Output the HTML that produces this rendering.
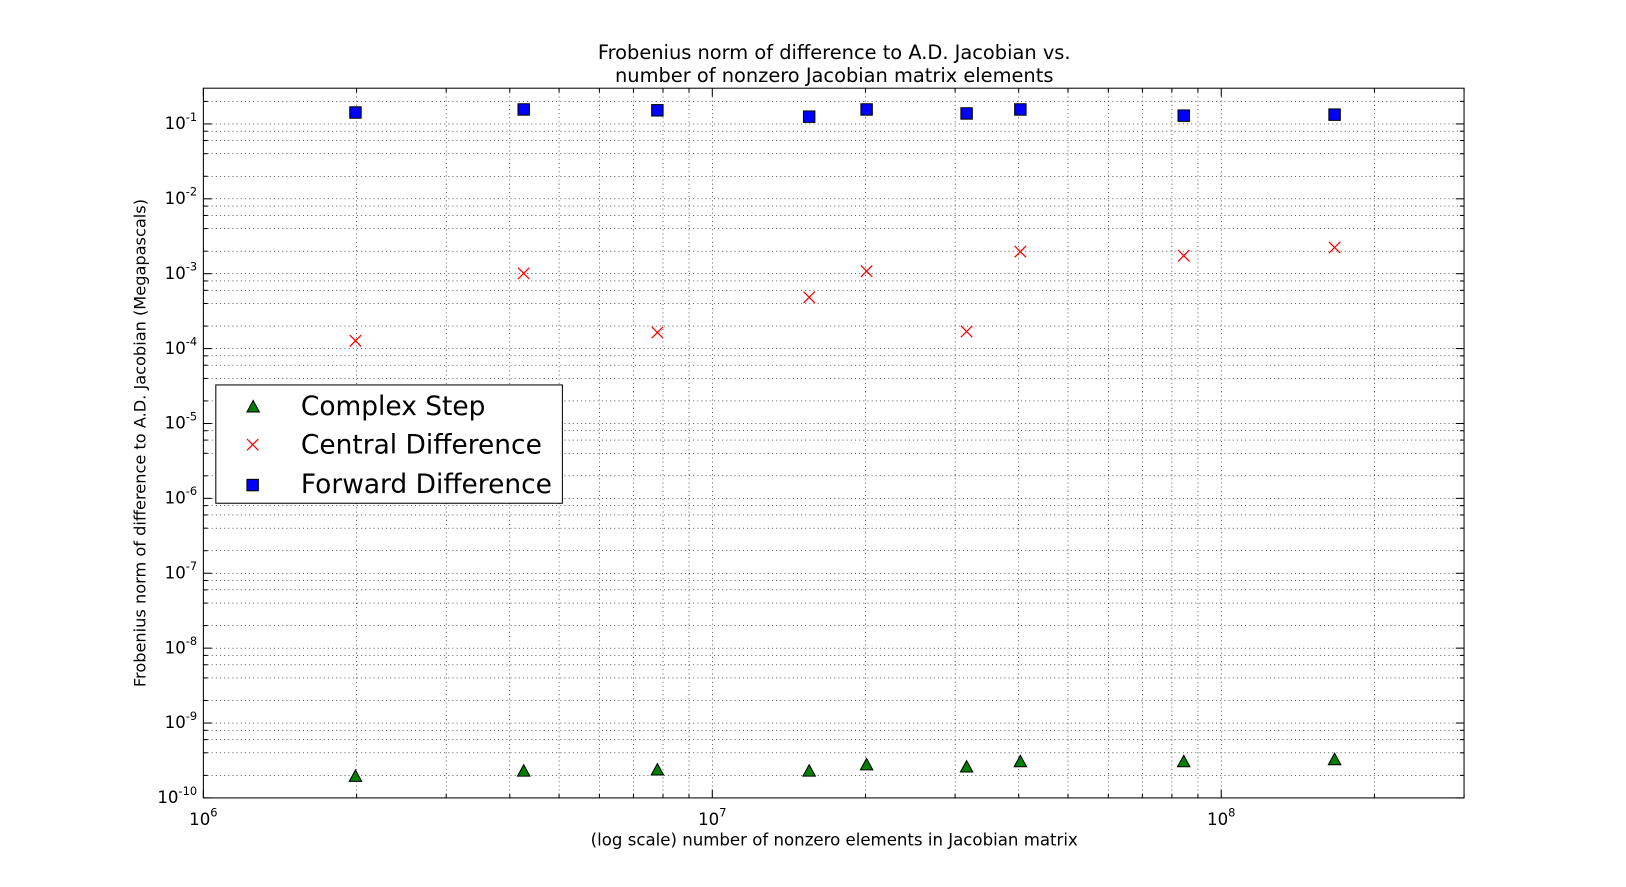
<!DOCTYPE html>
<html><head><meta charset="utf-8"><style>
body{margin:0;background:#fff;}
svg{display:block;font-family:"DejaVu Sans","Liberation Sans",sans-serif;}
</style></head><body>
<svg id="chart" width="1626" height="887">
<rect width="1626" height="887" fill="#fff"/>
<g transform="scale(1.0376)">
<text x="804" y="57" text-anchor="middle" font-size="18.7">Frobenius norm of difference to A.D. Jacobian vs.</text>
<text x="804" y="79" text-anchor="middle" font-size="18.7">number of nonzero Jacobian matrix elements</text>
<g id="grid"></g>
<g id="ticks"></g>
<g id="marks"></g>
<rect x="196" y="85" width="1215" height="684" fill="none" stroke="#000" stroke-width="1"/>
<text x="804" y="815" text-anchor="middle" font-size="16">(log scale) number of nonzero elements in Jacobian matrix</text>
<text transform="translate(140,427) rotate(-90)" text-anchor="middle" font-size="15.6">Frobenius norm of difference to A.D. Jacobian (Megapascals)</text>
<g>
<rect x="208" y="371" width="334" height="114" fill="#fff" stroke="#000"/>
<polygon points="244,386 238,397 250,397" fill="#008000" stroke="#000"/>
<text x="290" y="400" font-size="25.5">Complex Step</text>
<path d="M238,423 L249,434 M249,423 L238,434" stroke="#f00" stroke-width="1.2"/>
<text x="290" y="437" font-size="25.5">Central Difference</text>
<rect x="238" y="462" width="11" height="11" fill="#00f" stroke="#000"/>
<text x="290" y="475" font-size="25.5">Forward Difference</text>
</g>
</g>
</svg>
<script>
const xVals=[1.99e6,4.26e6,7.8e6,1.55e7,2.01e7,3.16e7,4.03e7,8.44e7,1.67e8];
const forward=[0.142,0.156,0.152,0.125,0.156,0.138,0.156,0.129,0.133];
const central=[1.27e-4,1.01e-3,1.64e-4,4.84e-4,1.08e-3,1.69e-4,1.97e-3,1.74e-3,2.24e-3];
const complexStep=[1.95e-10,2.29e-10,2.37e-10,2.29e-10,2.78e-10,2.6e-10,3.06e-10,3.06e-10,3.26e-10];
const xTickExps=[6,7,8];
const yTickExps=[-10,-9,-8,-7,-6,-5,-4,-3,-2,-1];
const X0=196,X1=1411,Y0=769,Y1=85;
const xMin=6,xMax=Math.log10(3e8),yMin=-10,yMax=Math.log10(0.3);
const sx=v=>X0+(Math.log10(v)-xMin)/(xMax-xMin)*(X1-X0);
const sy=v=>Y0-(Math.log10(v)-yMin)/(yMax-yMin)*(Y0-Y1);
const NS='http://www.w3.org/2000/svg';
function mk(tag,at,parent){const e=document.createElementNS(NS,tag);for(const k in at)e.setAttribute(k,at[k]);parent.appendChild(e);return e;}
const grid=document.getElementById('grid'),ticks=document.getElementById('ticks'),marks=document.getElementById('marks');
for(let e=6;e<=8;e++)for(let m=1;m<=9;m++){const v=m*Math.pow(10,e);if(v>3e8)continue;const x=sx(v);
 if(x>X0+0.5&&x<X1-0.5){const g=mk('line',{x1:x,x2:x,y1:Y1,y2:Y0,stroke:'#000','stroke-width':0.6,'stroke-dasharray':'1,3'},grid);
 
 }
 const L=m===1?8:4;
 const t1=mk('line',{x1:x,x2:x,y1:Y0,y2:Y0-L,stroke:'#000'},ticks);
 
 
 const t2=mk('line',{x1:x,x2:x,y1:Y1,y2:Y1+L,stroke:'#000'},ticks);
 
 }
xTickExps.forEach(e=>{const x=sx(Math.pow(10,e));const t=mk('text',{x:x,y:795,'font-size':16,'text-anchor':'middle'},ticks);
 
 
 t.innerHTML='10<tspan dy="-8" font-size="11">'+e+'</tspan>';});
for(let e=-10;e<=-1;e++)for(const m of [1,2,4,6,8]){const v=m*Math.pow(10,e);if(v>0.3)continue;const y=sy(v);
 if(y<Y0-0.5&&y>Y1+0.5){const g=mk('line',{x1:X0,x2:X1,y1:y,y2:y,stroke:'#000','stroke-width':0.6,'stroke-dasharray':'1,3'},grid);
 
 }
 const L=m===1?8:4;
 const t1=mk('line',{x1:X0,x2:X0+L,y1:y,y2:y,stroke:'#000'},ticks);
 
 
 const t2=mk('line',{x1:X1,x2:X1-L,y1:y,y2:y,stroke:'#000'},ticks);
 
 }
yTickExps.forEach(e=>{const y=sy(Math.pow(10,e));const t=mk('text',{x:190,y:y+5,'font-size':16,'text-anchor':'end'},ticks);
 
 
 t.innerHTML='10<tspan dy="-8" font-size="11">'+e+'</tspan>';});
xVals.forEach((xv,i)=>{const x=sx(xv);
 let y=sy(complexStep[i]);
 const p=mk('polygon',{points:`${x},${y-6} ${x-6},${y+5} ${x+6},${y+5}`,fill:'#008000',stroke:'#000'},marks);
 
 
 y=sy(central[i]);
 const c=mk('path',{d:`M${x-5.5},${y-5.5}L${x+5.5},${y+5.5}M${x+5.5},${y-5.5}L${x-5.5},${y+5.5}`,stroke:'#f00','stroke-width':1.2},marks);
 
 
 y=sy(forward[i]);
 const r=mk('rect',{x:x-5.5,y:y-5.5,width:11,height:11,fill:'#00f',stroke:'#000'},marks);
 
 
});
</script>
</body></html>
